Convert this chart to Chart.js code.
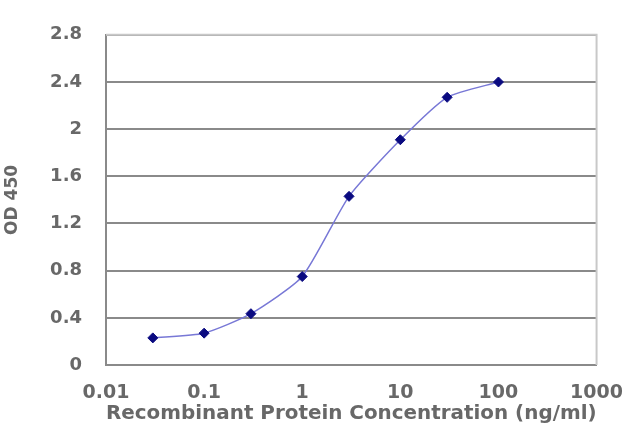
<!DOCTYPE html>
<html>
<head>
<meta charset="utf-8">
<script src="https://cdn.jsdelivr.net/npm/chart.js@4.4.0/dist/chart.umd.min.js"></script>
<style>
  html, body { margin: 0; padding: 0; background: #fff; }
  #wrap { width: 640px; height: 427px; }
</style>
</head>
<body>
<div id="wrap"><canvas id="chart" width="640" height="427"></canvas></div>
<script>
// data
const concentrations = [0.03, 0.1, 0.3, 1, 3, 10, 30, 100];
const odValues = [0.23, 0.27, 0.435, 0.75, 1.43, 1.91, 2.27, 2.40];
const xTicks = [0.01, 0.1, 1, 10, 100, 1000];
const yTicks = [0, 0.4, 0.8, 1.2, 1.6, 2, 2.4, 2.8];

const xTitle = 'Recombinant Protein Concentration (ng/ml)';
const yTitle = 'OD 450';

const textColor = '#686868';
const fontFamily = '"DejaVu Sans", "Liberation Sans", Arial, sans-serif';

// light frame around the plot area (top and right edges)
const frame = {
  id: 'frame',
  beforeDatasetsDraw(chart) {
    const a = chart.chartArea;
    const ctx = chart.ctx;
    ctx.save();
    ctx.strokeStyle = '#c8c8c8';
    ctx.lineWidth = 2;
    ctx.beginPath();
    ctx.moveTo(a.left, a.top);
    ctx.lineTo(a.right, a.top);
    ctx.lineTo(a.right, a.bottom);
    ctx.stroke();
    ctx.restore();
  }
};

const points = concentrations.map((c, i) => ({ x: c, y: odValues[i] }));

new Chart(document.getElementById('chart'), {
  type: 'line',
  data: {
    datasets: [{
      data: points,
      borderColor: '#7878d6',
      borderWidth: 1.5,
      tension: 0.2,
      pointStyle: 'rectRot',
      pointRadius: 5,
      pointBackgroundColor: '#0a0a80',
      pointBorderColor: '#0a0a80',
      pointBorderWidth: 1
    }]
  },
  options: {
    responsive: false,
    animation: false,
    devicePixelRatio: 1,
    layout: { padding: { left: 0, top: 30, right: 35, bottom: 0 } },
    plugins: { legend: { display: false }, tooltip: { enabled: false } },
    scales: {
      x: {
        type: 'logarithmic',
        min: 0.01,
        max: 1000,
        afterBuildTicks: s => { s.ticks = xTicks.map(v => ({ value: v })); },
        afterFit: s => { s.height = 62; },
        grid: { display: false, drawTicks: false },
        border: { color: '#8a8a8a', width: 2 },
        ticks: {
          padding: 17,
          color: textColor,
          font: { family: fontFamily, size: 19, weight: 'bold' },
          maxRotation: 0,
          callback: v => String(v)
        },
        title: {
          display: true,
          text: xTitle,
          color: textColor,
          font: { family: fontFamily, size: 20, weight: 'bold', lineHeight: 1.3 },
          padding: 0
        }
      },
      y: {
        min: 0,
        max: 2.8,
        afterBuildTicks: s => { s.ticks = yTicks.map(v => ({ value: v })); },
        afterFit: s => { s.width = 106; },
        grid: { color: '#8a8a8a', lineWidth: 2, drawTicks: false },
        border: { color: '#8a8a8a', width: 2 },
        ticks: {
          padding: 24,
          color: textColor,
          font: { family: fontFamily, size: 18, weight: 'bold' },
          callback: v => String(v)
        },
        title: {
          display: true,
          text: yTitle,
          color: textColor,
          font: { family: fontFamily, size: 17, weight: 'bold', lineHeight: 1.5 },
          padding: 0
        }
      }
    }
  },
  plugins: [frame]
});
</script>
</body>
</html>
